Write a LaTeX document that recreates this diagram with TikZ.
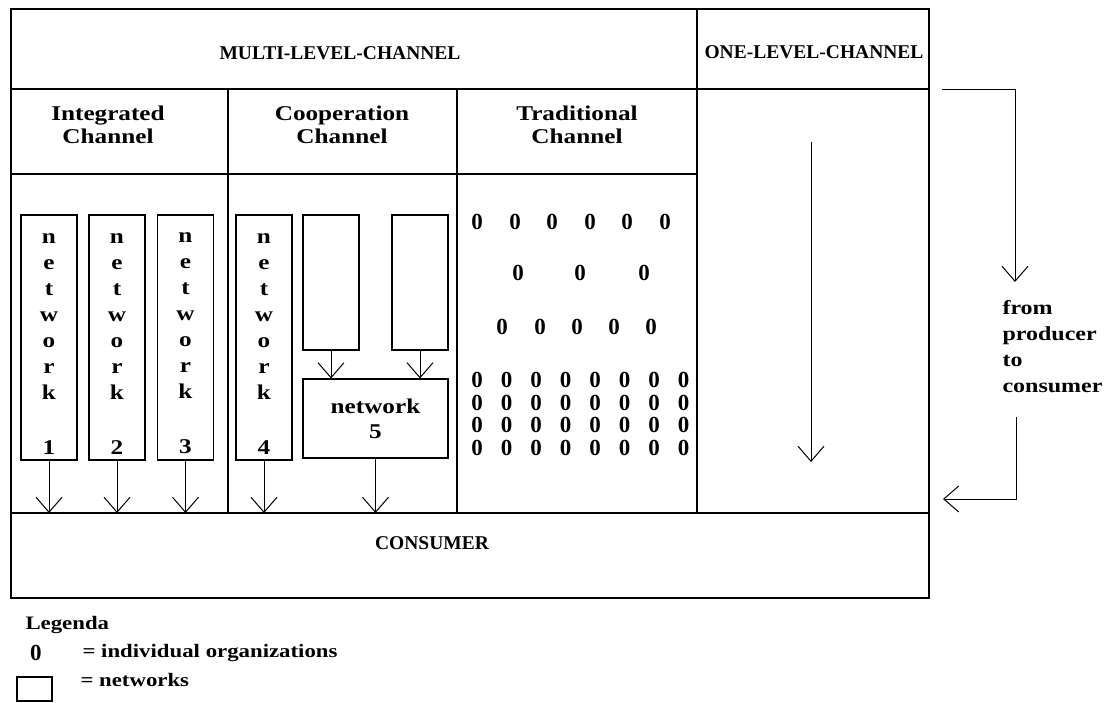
\documentclass[tikz,border=0pt]{standalone}
\usepackage{fontspec}
\setmainfont{Liberation Serif}[FakeStretch=1.2]
\newfontfamily\capsfont{Liberation Serif}
\usetikzlibrary{arrows.meta}

\tikzset{
  frame/.style={line width=1.2pt},
  txt/.style={font=\fontsize{21}{23}\selectfont\bfseries,inner sep=0pt},
  legtxt/.style={font=\fontsize{19}{22}\selectfont\bfseries,inner sep=0pt},
  caps/.style={font=\capsfont\fontsize{19.5}{22}\selectfont\bfseries,inner sep=0pt},
  netbox/.style={draw,line width=1.1pt,minimum width=56pt,minimum height=245pt,inner sep=0pt,
    align=center,font=\fontsize{21}{26}\selectfont\bfseries},
  emptybox/.style={draw,line width=1.1pt,minimum width=56pt,minimum height=135pt,inner sep=0pt},
  org/.style={font=\capsfont\fontsize{23}{23}\selectfont\bfseries,inner sep=0pt}
}

\begin{document}
\begin{tikzpicture}[x=1pt,y=-1pt,>={Straight Barb[length=15pt,width=26pt]},line width=1pt]
\useasboundingbox (0,0) rectangle (1112,703);
% grid of the channels
\draw[frame] (11,9) rectangle (929,598);
\draw[frame] (11,89) -- (929,89);
\draw[frame] (697,9) -- (697,513);
\draw[frame] (11,174) -- (697,174);
\draw[frame] (228,89) -- (228,513);
\draw[frame] (457,89) -- (457,513);
\draw[frame] (11,513) -- (929,513);
\coordinate (base) at (0,513);

\node[caps] (multi) at (340,53) {MULTI-LEVEL-CHANNEL};
\node[caps] (one) at (814,52) {ONE-LEVEL-CHANNEL};
\node[txt,align=center] (integ) at (108,125) {Integrated\\Channel};
\node[txt,align=center] (coop) at (342,125) {Cooperation\\Channel};
\node[txt,align=center] (trad) at (577,125) {Traditional\\Channel};
\node[caps] (consumer) at (432,543) {CONSUMER};

% networks
\foreach \i/\x in {1/49,2/117,3/185.5,4/264}{
  \node[netbox] (net\i) at (\x,337.5) {\rule{0pt}{22pt}n\\e\\t\\w\\o\\r\\k\\[29pt]\i};
  \draw[->] (net\i) -- (net\i |- base);
}
\node[emptybox] (up1) at (331,282.5) {};
\node[emptybox] (up2) at (420,282.5) {};
\node[netbox,minimum width=145pt,minimum height=79pt,font=\fontsize{21}{25}\selectfont\bfseries] (net5) at (375.5,418.5) {network\\5};
\draw[->] (up1) -- (up1 |- net5.north);
\draw[->] (up2) -- (up2 |- net5.north);
\draw[->] (net5) -- (net5 |- base);

% individual organizations
\foreach \x [count=\k] in {477,515,552,590,627,665}
  \node[org] (a\k) at (\x,222) {0};
\foreach \x [count=\k] in {518,580,644}
  \node[org] (b\k) at (\x,273) {0};
\foreach \x [count=\k] in {502,540,577,614,651}
  \node[org] (c\k) at (\x,327) {0};
\foreach \y [count=\r] in {380,402.5,425,447.5}
  \foreach \k in {0,...,7}
    \node[org] (d\r\k) at (477+29.5*\k,\y) {0};

% one-level flow
\coordinate (flowtop) at (811,142);
\coordinate (flowend) at (811,462);
\draw[->] (flowtop) -- (flowend);

% from producer to consumer
\coordinate (b1) at (942,90);
\coordinate (b2) at (1015,282);
\draw[->] (b1) -| (b2);
\node[txt,align=left,anchor=north west,font=\fontsize{20}{26}\selectfont\bfseries] (flowtxt) at (1002,300) {from\\producer\\to\\consumer};
\coordinate (b3) at (1016,417);
\coordinate (b4) at (943,499);
\draw[->] (b3) |- (b4);

% legend
\node[legtxt,anchor=west] (legtitle) at (25,625) {Legenda};
\node[org] (legzero) at (36,653) {0};
\node[legtxt,anchor=west] (legorg) at (82,653) {= individual organizations};
\node[draw,line width=1.1pt,minimum width=35pt,minimum height=24pt,inner sep=0pt] (legbox) at (34.5,689) {};
\node[legtxt,anchor=west] (legnet) at (80,680) {= networks};
\end{tikzpicture}
\end{document}
